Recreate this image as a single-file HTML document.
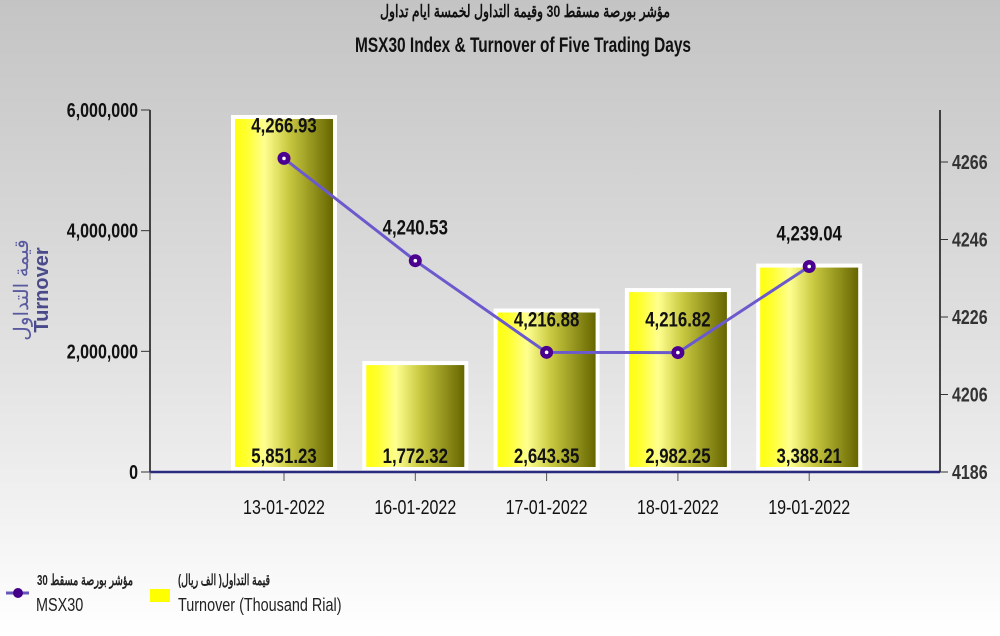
<!DOCTYPE html>
<html><head><meta charset="utf-8"><style>
html,body{margin:0;padding:0;}
body{width:1000px;height:636px;overflow:hidden;background:linear-gradient(#c4c4c4 0%,#e4e4e4 60%,#ffffff 100%);}
svg{display:block;font-family:"Liberation Sans","Noto Sans CJK SC",sans-serif;}
</style></head><body>
<svg id="chart" width="1000" height="636">
<defs>
<linearGradient id="barg" x1="0" x2="1" y1="0" y2="0">
<stop offset="0" stop-color="#ffff10"/><stop offset="0.12" stop-color="#ffff30"/><stop offset="0.3" stop-color="#ffff90"/><stop offset="0.55" stop-color="#c8c840"/><stop offset="1" stop-color="#666600"/>
</linearGradient>
</defs>
<text class="nar" data-w="290" x="525" y="17" text-anchor="middle" font-size="17" font-weight="bold" fill="#111">مؤشر بورصة مسقط 30 وقيمة التداول لخمسة ايام تداول</text>
<text class="nar" data-w="336" x="523" y="52" text-anchor="middle" font-size="21" font-weight="bold" fill="#111">MSX30 Index &amp; Turnover of Five Trading Days</text>
<g transform="translate(36,290) rotate(-90)">
<text x="0" y="-8" text-anchor="middle" font-size="20" fill="#5a5aa0">قيمة التداول</text>
<text x="0" y="12" text-anchor="middle" font-size="20" font-weight="bold" fill="#4a4a8a">Turnover</text>
</g>
<g id="plot"></g>
<g>
<line x1="6" y1="593" x2="29" y2="593" stroke="#6655bb" stroke-width="3"/>
<circle cx="18" cy="593" r="5" fill="#440088"/>
<text class="nar" data-w="96" x="133" y="585" text-anchor="end" font-size="15" font-weight="bold" fill="#222">مؤشر بورصة مسقط 30</text>
<text class="nar" x="36" y="611" font-size="18" fill="#222">MSX30</text>
<rect x="150" y="589" width="20" height="13" fill="#ffff00"/>
<text class="nar" data-w="92" x="270" y="585" text-anchor="end" font-size="15" font-weight="bold" fill="#222">قيمة التداول( الف ريال)</text>
<text class="nar" x="178" y="611" font-size="18" fill="#222">Turnover (Thousand Rial)</text>
</g>
</svg>
<script>
const categories=["13-01-2022","16-01-2022","17-01-2022","18-01-2022","19-01-2022"];
const turnover=[5851.23,1772.32,2643.35,2982.25,3388.21];
const msx30=[4266.93,4240.53,4216.88,4216.82,4239.04];
const leftTicks=[0,2000000,4000000,6000000];
const leftTickLabels=["0","2,000,000","4,000,000","6,000,000"];
const rightTicks=[4186,4206,4226,4246,4266];

const NS="http://www.w3.org/2000/svg";
const g=document.getElementById('plot');
const X0=150,X1=940,Y0=472,YT=110;
function yL(v){return Y0-(v/6000000)*(Y0-YT);}
function yR(v){return Y0-(v-4186)/80*310;}
function xC(i){return 284+i*131.3;}
function mk(tag,attrs,parent){const e=document.createElementNS(NS,tag);for(const k in attrs)e.setAttribute(k,attrs[k]);(parent||g).appendChild(e);return e;}
function fmt(v){return v.toLocaleString('en-US',{minimumFractionDigits:2,maximumFractionDigits:2});}

let a=mk('line',{x1:X0,y1:YT,x2:X0,y2:Y0,stroke:'#111','stroke-width':1.5});


a=mk('line',{x1:X1,y1:YT,x2:X1,y2:Y0,stroke:'#111','stroke-width':1.5});


leftTicks.forEach((v,i)=>{
  mk('line',{x1:X0-9,y1:yL(v),x2:X0,y2:yL(v),stroke:'#333'});
  const t=mk('text',{class:'nar',x:X0-12,y:yL(v)+7,'text-anchor':'end','font-size':20,'font-weight':'bold',fill:'#111'});
  t.textContent=leftTickLabels[i];
  
  
});
rightTicks.forEach(v=>{
  mk('line',{x1:X1,y1:yR(v),x2:X1+8,y2:yR(v),stroke:'#333'});
  const t=mk('text',{class:'nar',x:X1+12,y:yR(v)+7,'font-size':20,'font-weight':'bold',fill:'#333'});
  t.textContent=String(v);
  
  
});
turnover.forEach((v,i)=>{
  const cx=xC(i),top=yL(v*1000);
  const f=mk('rect',{x:cx-53,y:top-4,width:106,height:Y0-top+2,fill:'#fff'});
  
  
  const b=mk('rect',{x:cx-49,y:top,width:98,height:Y0-top-5,fill:'url(#barg)'});
  
  
  const t=mk('text',{class:'nar',x:cx,y:Y0-9,'text-anchor':'middle','font-size':21,'font-weight':'bold',fill:'#111'});
  t.textContent=fmt(v);
  
  
  mk('line',{x1:cx,y1:Y0,x2:cx,y2:Y0+9,stroke:'#555'});
  const c=mk('text',{class:'nar',x:cx,y:Y0+42,'text-anchor':'middle','font-size':20,fill:'#111'});
  c.textContent=categories[i];
  
  
});
a=mk('line',{x1:X0,y1:Y0,x2:X1,y2:Y0,stroke:'#2a2a80','stroke-width':2.5});


mk('line',{x1:X0,y1:Y0,x2:X0,y2:Y0+8,stroke:'#555'});
const pts=msx30.map((v,i)=>xC(i)+','+yR(v)).join(' ');
const pl=mk('polyline',{points:pts,fill:'none',stroke:'#6a5acd','stroke-width':3});


msx30.forEach((v,i)=>{
  const cx=xC(i),cy=yR(v);
  const c=mk('circle',{cx:cx,cy:cy,r:6.5,fill:'#4b0090'});
  
  
  mk('circle',{cx:cx,cy:cy,r:1.8,fill:'#fff'});
  const t=mk('text',{class:'nar',x:cx,y:cy-26,'text-anchor':'middle','font-size':21,'font-weight':'bold',fill:'#111'});
  t.textContent=fmt(v);
  
  
});
document.querySelectorAll('text.nar').forEach(t=>{
  const w=t.getComputedTextLength();
  const target=t.getAttribute('data-w')?parseFloat(t.getAttribute('data-w')):w*0.8;
  if(w>0){t.setAttribute('textLength',target.toFixed(1));t.setAttribute('lengthAdjust','spacingAndGlyphs');}
});
</script>
</body></html>
